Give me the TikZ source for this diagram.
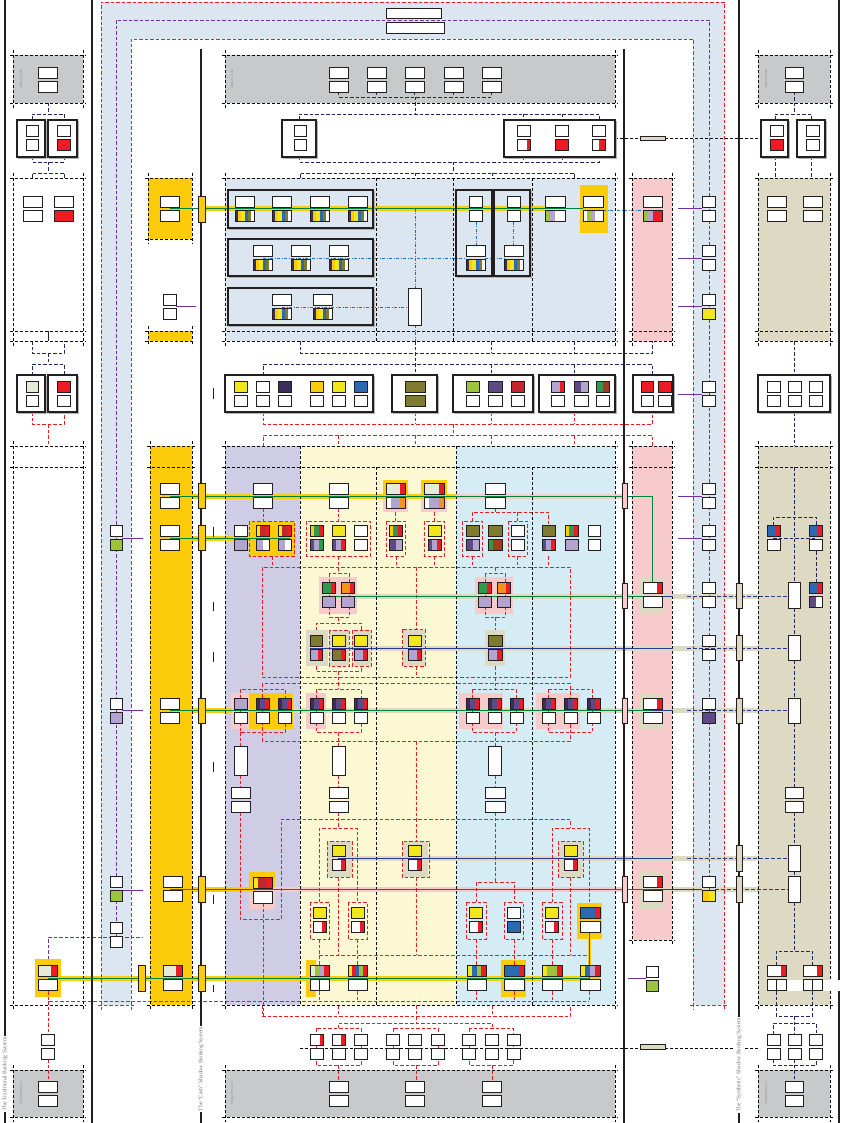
\documentclass[tikz,border=0pt]{standalone}
\usepackage{fontspec}
\setmainfont{Liberation Serif}
\usetikzlibrary{fit,calc}
\definecolor{bandblue}{HTML}{DCE6F1}
\definecolor{grayr}{HTML}{C8C9CA}
\definecolor{cashy}{HTML}{FCCB0A}
\definecolor{pinkr}{HTML}{F7CACC}
\definecolor{tanr}{HTML}{DDD9C3}
\definecolor{lavbg}{HTML}{CFCCE6}
\definecolor{ltyel}{HTML}{FBF8D3}
\definecolor{ltcyan}{HTML}{D5ECF4}
\definecolor{boxk}{HTML}{231F20}
\definecolor{yelb}{HTML}{F2E71B}
\definecolor{olv}{HTML}{7E7A2F}
\definecolor{navyp}{HTML}{3A2D5C}
\definecolor{blueb}{HTML}{2B6AB3}
\definecolor{redb}{HTML}{ED1C24}
\definecolor{darkred}{HTML}{C1272D}
\definecolor{lavender}{HTML}{B2A4CE}
\definecolor{purplep}{HTML}{5D4A87}
\definecolor{greenb}{HTML}{2E9A4C}
\definecolor{orangeb}{HTML}{F5921E}
\definecolor{ltgreen}{HTML}{9BC33C}
\definecolor{palegr}{HTML}{E4ECD7}
\definecolor{brownb}{HTML}{A23B24}
\definecolor{navyc}{HTML}{1E2A5E}
\definecolor{redc}{HTML}{ED1C24}
\definecolor{purc}{HTML}{7030A0}
\definecolor{bluec}{HTML}{1F6FB6}
\definecolor{greenc}{HTML}{00843D}
\definecolor{navyl}{HTML}{2B3990}
\tikzset{
 bxl/.style={draw=boxk, line width=0.9pt},
 rb/.style={draw=black, line width=0.7pt, dash pattern=on 3pt off 2pt},
 vline/.style={draw=boxk, line width=1.1pt},
 navyd/.style={draw=navyc, line width=0.8pt, dash pattern=on 3.5pt off 2pt},
 redd/.style={draw=redc, line width=0.8pt, dash pattern=on 3.5pt off 2pt},
 purd/.style={draw=purc, line width=0.8pt, dash pattern=on 3.5pt off 2pt},
 purl/.style={draw=purc, line width=0.8pt},
 blued/.style={draw=bluec, line width=0.8pt, dash pattern=on 3pt off 1.5pt on 1pt off 1.5pt},
 blkd/.style={draw=black, line width=0.7pt, dash pattern=on 3pt off 2pt},
 yflow/.style={draw=cashy, line width=5pt},
 pflow/.style={draw=pinkr, line width=5pt},
 tflow/.style={draw=tanr, line width=5pt},
 gline/.style={draw=greenc, line width=0.9pt},
 nline/.style={draw=navyl, line width=0.9pt},
 nldash/.style={draw=navyl, line width=0.9pt, dash pattern=on 4pt off 2pt},
 biglbl/.style={fill=white, text=black!55, font=\fontsize{5.6}{6}\selectfont, inner sep=1.2pt, rotate=90},
 smlbl/.style={text=black!50, font=\fontsize{2.8}{3}\selectfont, inner sep=0pt, rotate=90},
}
% multi-colour box: name, x1, y1, x2, y2, colour list
\newcommand\MB[6]{%
  \node[inner sep=0pt,outer sep=0pt,fit={(#2,#3)(#4,#5)}] (#1) {};%
  \xdef\mbn{0}%
  \foreach \cc in {#6}{\pgfmathtruncatemacro\mbt{\mbn+1}\xdef\mbn{\mbt}}%
  \foreach \cc [count=\ii] in {#6}{\fill[\cc] ({#2+(\ii-1)*(#4-#2)/\mbn},#3) rectangle ({#2+\ii*(#4-#2)/\mbn},#5);}%
  \draw[bxl] (#2,#3) rectangle (#4,#5);}
% pair of boxes: name, x1, x2, ytop, top colours, bottom colours
\newcommand\PR[6]{%
  \MB{#1t}{#2}{#4}{#3}{#4+11}{#5}%
  \MB{#1b}{#2}{#4+14.5}{#3}{#4+25.5}{#6}}
% frame: name, x1, y1, x2, y2, fill
\newcommand\FR[6]{%
  \draw[black!30, line width=1.2pt] (#2+1.2,#5+1.2) -- (#4+1.2,#5+1.2) -- (#4+1.2,#3+1.2);%
  \node[inner sep=0pt, outer sep=0pt, fit={(#2,#3)(#4,#5)}, draw=boxk, fill=#6, line width=1.1pt] (#1) {};}
% region border
\newcommand\RB[4]{\draw[rb] (#1-3,#2) -- (#3+3,#2) (#1-3,#4) -- (#3+3,#4) (#1,#2-5) -- (#1,#4+5) (#3,#2-5) -- (#3,#4+5);}
\begin{document}
\begin{tikzpicture}[x=1pt,y=-1pt]
\useasboundingbox (0,0) rectangle (843,1123);
\fill[white] (0,0) rectangle (843,1123);
% ---------- backgrounds
\fill[bandblue] (101,2) rectangle (724,1005);
\fill[white] (131,39) rectangle (693,1005);
\foreach \ya/\yb in {55/103,1070/1117}{
  \fill[grayr] (13,\ya) rectangle (83,\yb);
  \fill[grayr] (225,\ya) rectangle (615,\yb);
  \fill[grayr] (758,\ya) rectangle (830,\yb);}
\fill[cashy] (148,178) rectangle (192,239);
\fill[cashy] (148,331) rectangle (192,341);
\fill[bandblue] (225,178) rectangle (615,341);
\fill[pinkr] (632,178) rectangle (672,341);
\fill[tanr] (758,178) rectangle (830,341);
\fill[cashy] (150,446) rectangle (192,1005);
\fill[lavbg] (225,446) rectangle (300,1005);
\fill[ltyel] (300,446) rectangle (456,1005);
\fill[ltcyan] (456,446) rectangle (615,1005);
\fill[pinkr] (632,446) rectangle (672,940);
\fill[tanr] (758,446) rectangle (830,1005);
% ---------- highlight backgrounds
\foreach \a/\b/\c/\d in {580/185/608/233, 383/480/408/497, 421/480/447/497, 250/522/295/556, 249/693/293/729, 249/872/275/887, 577/903/602/939, 35/959/61/997, 306/960/316/997, 501/960/526/997}
  {\fill[cashy] (\a,\b) rectangle (\c,\d);}
\foreach \a/\b/\c/\d in {383/497/408/512, 421/497/447/512, 319/577/357/614, 475/577/513/614, 231/693/249/729, 306/693/326/729, 459/693/503/729, 536/693/580/729, 249/887/275/909}
  {\fill[pinkr] (\a,\b) rectangle (\c,\d);}
\foreach \a/\b/\c/\d in {640/577/664/614, 306/630/328/666, 329/630/349/666, 352/630/371/666, 403/630/425/666, 485/630/505/666, 640/693/664/729, 327/841/352/877, 403/841/428/877, 558/841/583/877, 640/871/664/909}
  {\fill[tanr] (\a,\b) rectangle (\c,\d);}
% ---------- flow bands
\draw[yflow] (205,209) -- (545,209);
\draw[yflow] (192,496) -- (456,496);
\draw[pflow] (456,496) -- (622,496);
\draw[yflow] (192,538) -- (296,538);
\draw[tflow] (320,596) -- (758,596);
\draw[tflow] (306,648) -- (758,648);
\draw[yflow] (192,710) -- (232,710);
\draw[tflow] (293,710) -- (758,710);
\draw[tflow] (330,858) -- (758,858);
\draw[yflow] (192,889) -- (256,889);
\draw[pflow] (275,889) -- (622,889);
\draw[tflow] (664,889) -- (758,889);
\draw[yflow] (35,978) -- (600,978);
\draw[draw=cashy, line width=3pt] (589,933) -- (589,978);
% ---------- outer dashed borders
\draw[redd] (101,1010) -- (101,2) -- (724,2) -- (724,1010);
\draw[purd] (116,948) -- (116,20) -- (709,20) -- (709,902);
\draw[redd] (131,1010) -- (131,39) -- (693,39) -- (693,1010);
\draw[redd] (98,1005) -- (134,1005) (690,1005) -- (727,1005);
% ---------- navy trees (top)
\draw[navyd] (48,103) -- (48,114);
\draw[navyd] (32,120) |- (64,114) -- (64,120);
\draw[navyd] (32,157) |- (64,162) -- (64,157);
\draw[navyd] (48,162) -- (48,173);
\draw[navyd] (32,178) |- (64,173) -- (64,178);
\draw[navyd] (794,92) -- (794,114);
\draw[navyd] (775,120) |- (811,114) -- (811,120);
\draw[navyd] (775,157) -- (775,178) (811,157) -- (811,178);
\draw[navyd] (338.5,92) |- (491.5,97) -- (491.5,92);
\foreach \x in {376.5,414.5,453}{\draw[navyd] (\x,92) -- (\x,97);}
\draw[navyd] (415,97) -- (415,114);
\draw[navyd] (299,120) |- (599,114) -- (599,120);
\draw[navyd] (523,114) -- (523,120) (562,114) -- (562,120);
\draw[navyd] (299,157) |- (599,162) -- (599,157);
\draw[navyd] (523,157) -- (523,162) (562,157) -- (562,162);
\draw[navyd] (453,162) -- (453,173);
\draw[navyd] (300,178) |- (574,173) -- (574,178);
\draw[navyd] (415,173) -- (415,178) (492,173) -- (492,178);
% middle navy
\draw[navyd] (32,341) |- (64,353) -- (64,341);
\draw[navyd] (48,353) -- (48,364);
\draw[navyd] (32,375) |- (64,364) -- (64,375);
\draw[navyd] (300,341) |- (652,353) -- (652,341);
\draw[navyd] (415,341) -- (415,375) (491,341) -- (491,353) (574,341) -- (574,353);
\draw[navyd] (263,375) |- (652,364) -- (652,375);
\draw[navyd] (491,364) -- (491,375) (574,364) -- (574,375);
\draw[navyd] (794,341) -- (794,375);
% red middle
\draw[redd] (32,412) |- (64,424) -- (64,412);
\draw[redd] (48,424) -- (48,446);
\draw[redd] (263,412) |- (652,424) -- (652,412);
\draw[redd] (415,412) -- (415,424) (491,412) -- (491,424) (574,412) -- (574,424);
\draw[redd] (453,424) -- (453,435);
\draw[redd] (263,446) |- (652,435) -- (652,446);
\foreach \x in {338,415,491,574}{\draw[redd] (\x,435) -- (\x,446);}
\draw[navyd] (794,412) -- (794,446);
% ---------- red trees, lower region
\draw[redd] (263,508) -- (263,522) (338,508) -- (338,521) (395,512) -- (395,521) (434,512) -- (434,521) (495,508) -- (495,512);
\draw[redd] (472,521) |- (548,512) -- (548,525);
\draw[redd] (517,512) -- (517,521);
\foreach \a/\b/\c/\d in {249/521/294/556, 306/521/370/556, 386/521/405/556, 424/521/444/556, 462/521/482/556, 508/521/527/556}
  {\draw[redd] (\a,\b) rectangle (\c,\d);}
\draw[redd] (262,567) rectangle (570,677);
\foreach \x in {272,396,434,472,517,548}{\draw[redd] (\x,556) -- (\x,567);}
\draw[redd] (338,556) -- (338,573) (495,567) -- (495,573);
\draw[redd] (329,573) rectangle (349,617) (485,573) rectangle (505,617);
\draw[redd] (338,617) -- (338,623);
\draw[redd] (316,630) |- (361,623) -- (361,630);
\draw[redd] (329,630) rectangle (349,666) (352,630) rectangle (371,666) (402,629) rectangle (425,666);
\draw[redd] (316,666) |- (361,671) -- (361,666);
\draw[redd] (338,671) -- (338,689);
\draw[redd] (416,567) -- (416,629) (416,666) -- (416,677);
\draw[redd] (495,617) -- (495,630) (495,666) -- (495,689);
\draw[redd] (262,683) rectangle (570,741);
\foreach \a/\b/\c/\d in {240/689/285/732, 316/689/361/732, 472/689/516/732, 548/689/592/732}
  {\draw[redd] (\a,\b) rectangle (\c,\d);}
\draw[redd] (240,732) -- (240,746) (240,775) -- (240,787);
\draw[redd] (240,812) -- (240,919) -- (281,919) -- (281,819) -- (570,819) -- (570,828);
\draw[redd] (338,732) -- (338,746) (338,775) -- (338,787) (338,812) -- (338,828);
\draw[redd] (495,732) -- (495,746) (495,775) -- (495,787) (495,812) -- (495,882);
\draw[redd] (319,902) |- (357,828) -- (357,902);
\draw[redd] (552,902) |- (589,828) -- (589,903);
\draw[redd] (476,902) |- (514,882) -- (514,902);
\draw[redd] (327,841) rectangle (352,877) (402,841) rectangle (429,877) (558,841) rectangle (583,877);
\draw[redd] (416,741) -- (416,841) (416,877) -- (416,955);
\draw[redd] (338,877) -- (338,955) (570,877) -- (570,955);
\foreach \a/\b/\c/\d in {310/902/329/939, 348/902/367/939, 466/902/486/939, 504/902/523/939, 542/902/562/939}
  {\draw[redd] (\a,\b) rectangle (\c,\d);}
\draw[redd] (319,955) -- (589,955);
\foreach \x in {319,357,476,514,552}{\draw[redd] (\x,939) -- (\x,965);}
\draw[redd] (48,991) |- (589,1001);
\foreach \x in {319,357,476,514,552,589}{\draw[redd] (\x,991) -- (\x,1001);}
\draw[redd] (48,1001) -- (48,1034) (48,1059) -- (48,1081);
\draw[redd] (263,903) -- (263,1016);
\draw[redd] (262,1005) |- (570,1016) -- (570,1005);
\foreach \x in {338,416,492}{\draw[redd] (\x,1005) -- (\x,1016);}
\draw[redd] (416,1016) -- (416,1023);
\draw[redd] (338,1028) |- (492,1023) -- (492,1028);
\draw[redd] (316,1028) rectangle (361,1065) (393,1028) rectangle (438,1065) (469,1028) rectangle (513,1065);
\draw[redd] (338,1065) -- (338,1081) (416,1065) -- (416,1081) (492,1065) -- (492,1081);
% ---------- navy, right tan column
\draw[navyd] (794,467) -- (794,582);
\draw[navyd] (773,525) |- (816,517) -- (816,525);
\draw[navyd] (773,538) -- (816,538);
\draw[navyd] (816,551) -- (816,582);
\draw[navyd] (794,608) -- (794,635) (794,660) -- (794,698) (794,723) -- (794,787) (794,812) -- (794,845) (794,871) -- (794,876) (794,902) -- (794,951);
\draw[navyd] (776,965) |- (812,951) -- (812,965);
\draw[navyd] (776,991) |- (812,1016) -- (812,991);
\draw[navyd] (794,1016) -- (794,1034);
\draw[navyd] (773,1034) |- (816,1023) -- (816,1034);
\draw[navyd] (773,1059) |- (816,1065) -- (816,1059);
\draw[navyd] (794,1059) -- (794,1081);
% ---------- purple links
\foreach \y in {208,258,306,394,496,538}{\draw[purl] (678,\y) -- (702,\y);}
\foreach \y in {538,710,890}{\draw[purl] (122,\y) -- (143,\y);}
\draw[purd] (48,959) |- (143,937);
\draw[purl] (176,306) -- (196,306);
\draw[purl] (628,978) -- (646,978);
% ---------- blue dash-dot
\draw[blued] (603,210) -- (643,210);
\draw[blued] (263,258) -- (466,258) (485,258) -- (504,258);
\draw[blued] (282,307) -- (408,307);
\draw[blued] (415,209) -- (415,288) (415,325) -- (415,341);
\draw[blued] (476,222) -- (476,245) (513,222) -- (513,245);
% ---------- black dashed links
\draw[blkd] (535,138) -- (761,138);
\draw[blkd] (300,1048) -- (760,1048);
% ---------- region borders
\RB{13}{55}{83}{103} \RB{225}{55}{615}{103} \RB{758}{55}{830}{103}
\RB{13}{1070}{83}{1117} \RB{225}{1070}{615}{1117} \RB{758}{1070}{830}{1117}
\RB{13}{178}{83}{341} \RB{148}{178}{192}{239} \RB{148}{331}{192}{341}
\RB{225}{178}{615}{341} \RB{632}{178}{672}{341} \RB{758}{178}{830}{341}
\draw[rb] (10,331) -- (86,331) (222,331) -- (618,331) (629,331) -- (675,331) (755,331) -- (833,331);
\draw[boxk, line width=0.7pt] (48,331) -- (48,341);
\foreach \x in {376,453,532}{\draw[rb] (\x,178) -- (\x,341);}
\RB{13}{446}{83}{1005} \RB{150}{446}{192}{1005} \RB{225}{446}{615}{1005}
\RB{632}{446}{672}{940} \RB{758}{446}{830}{1005}
\draw[rb] (10,467) -- (86,467) (147,467) -- (195,467) (222,467) -- (618,467) (629,467) -- (675,467) (755,467) -- (833,467);
\draw[rb] (300,446) -- (300,1005) (456,446) -- (456,1005) (376,467) -- (376,1005) (532,467) -- (532,1005);
% ---------- main vertical lines
\draw[vline] (5,0) -- (5,1123) (92,0) -- (92,1123) (201,49) -- (201,1123) (624,49) -- (624,1123) (739,0) -- (739,1123) (839,0) -- (839,1123);
% ---------- thin flow lines
\draw[gline] (170,208) -- (583,208);
\draw[gline] (170,496) -- (652,496) -- (652,582);
\draw[gline] (170,538) -- (290,538);
\draw[gline] (322,596) -- (652,596);
\draw[nline] (652,596) -- (673,596);
\draw[nldash] (687,596) -- (788,596);
\draw[nline] (310,648) -- (673,648);
\draw[nldash] (687,648) -- (788,648);
\draw[gline] (170,710) -- (652,710);
\draw[nline] (652,710) -- (673,710);
\draw[nldash] (687,710) -- (788,710);
\draw[nline] (338,858) -- (673,858);
\draw[nldash] (687,858) -- (788,858);
\draw[gline] (170,889) -- (652,889);
\draw[nline] (652,889) -- (702,889);
\draw[nldash] (715,889) -- (788,889);
\draw[gline] (48,978) -- (589,978) -- (589,933);
% small tick marks
\foreach \ya/\yb in {388/399, 527/537, 602/611, 652/662, 762/772, 895/904, 985/992}{\draw[boxk, line width=0.8pt] (213,\ya) -- (213,\yb);}
% ---------- bars on the vertical lines
\foreach \ya/\yb [count=\k] in {196/222, 483/508, 525/550, 698/723, 876/902, 965/991}{\MB{cbar\k}{198}{\ya}{205}{\yb}{cashy}}
\foreach \ya/\yb [count=\k] in {483/508, 583/608, 698/723, 876/902}{\MB{pbar\k}{622}{\ya}{627}{\yb}{pinkr}}
\foreach \ya/\yb [count=\k] in {583/608, 635/660, 698/723, 845/871, 876/902}{\MB{tbar\k}{736}{\ya}{742}{\yb}{tanr}}
\MB{tbarA}{640}{136}{665}{140}{tanr}
\MB{tbarB}{640}{1044}{665}{1049}{tanr}
\MB{ybar}{138}{965}{145}{991}{cashy}
% ---------- frames
\FR{fL1}{17}{120}{45}{157}{white} \FR{fL2}{48}{120}{77}{157}{white}
\FR{fC}{282}{120}{316}{157}{white} \FR{fR}{504}{120}{615}{157}{white}
\FR{fRR1}{761}{120}{788}{157}{white} \FR{fRR2}{797}{120}{825}{157}{white}
\FR{F1}{228}{190}{373}{228}{none} \FR{F2}{228}{239}{373}{276}{none} \FR{F3}{228}{288}{373}{325}{none}
\FR{F4}{456}{190}{492}{276}{none} \FR{F5}{494}{190}{530}{276}{none}
\FR{mL1}{17}{375}{45}{412}{white} \FR{mL2}{48}{375}{77}{412}{white}
\FR{mA}{225}{375}{373}{412}{white} \FR{mB}{392}{375}{437}{412}{white}
\FR{mC}{453}{375}{533}{412}{white} \FR{mD}{539}{375}{615}{412}{white}
\FR{mE}{633}{375}{673}{412}{white} \FR{mT}{758}{375}{830}{412}{white}
% ---------- boxes: top
\MB{tA}{386}{8}{441}{18}{white}
\MB{tB}{386}{22}{444}{33}{white}
\PR{uL}{38}{57}{67}{white}{white}
\foreach \x [count=\k] in {329,367,405,444,482}{\PR{uc\k}{\x}{\x+19}{67}{white}{white}}
\PR{uR}{785}{803}{67}{white}{white}
\PR{a1}{26}{38}{125}{white}{white}
\PR{a2}{57}{70}{125}{white}{redb}
\PR{a3}{294}{306}{125}{white}{white}
\PR{a4}{517}{530}{125}{white}{white,white,white,redb}
\PR{a5}{555}{568}{125}{white}{redb}
\PR{a6}{592}{605}{125}{white}{white,redb}
\PR{a7}{770}{783}{125}{white}{redb}
\PR{a8}{806}{819}{125}{white}{white}
% row 3
\PR{b1}{23}{42}{196}{white}{white}
\PR{b2}{54}{73}{196}{white}{redb}
\PR{b3}{160}{179}{196}{white}{white}
\foreach \x [count=\k] in {235,272,310,348}{\PR{fa\k}{\x}{\x+19}{196}{white}{navyp,cashy,yelb,blueb,olv,white}}
\foreach \x [count=\k] in {253,291,329}{\PR{fb\k}{\x}{\x+19}{245}{white}{navyp,cashy,yelb,blueb,olv,white}}
\foreach \x [count=\k] in {272,313}{\PR{fc\k}{\x}{\x+19}{294}{white}{navyp,cashy,yelb,blueb,olv,white}}
\MB{bT}{408}{288}{421}{325}{white}
\PR{b13}{469}{482}{196}{white}{white}
\PR{b14}{466}{485}{245}{white}{navyp,cashy,yelb,blueb,olv,white}
\PR{b15}{507}{520}{196}{white}{white}
\PR{b16}{504}{523}{245}{white}{navyp,cashy,yelb,blueb,olv,white}
\PR{b17}{545}{565}{196}{white}{ltgreen,lavender,white,white}
\PR{b18}{583}{603}{196}{white}{white,ltgreen,lavender,white,white}
\PR{b19}{643}{662}{196}{white}{ltgreen,lavender,redb,redb}
\PR{b20}{702}{715}{196}{white}{white}
\PR{b21}{702}{715}{245}{white}{white}
\PR{b22}{702}{715}{294}{white}{yelb}
\PR{b23}{767}{786}{196}{white}{white}
\PR{b24}{803}{822}{196}{white}{white}
\PR{b25}{163}{176}{294}{white}{white}
% middle row
\PR{m1}{26}{38}{381}{palegr}{white}
\PR{m2}{57}{70}{381}{redb}{white}
\PR{m3}{234}{247}{381}{yelb}{white}
\PR{m4}{256}{269}{381}{white}{white}
\PR{m5}{278}{291}{381}{navyp}{white}
\PR{m6}{310}{323}{381}{cashy}{white}
\PR{m7}{332}{345}{381}{yelb}{white}
\PR{m8}{354}{367}{381}{blueb}{white}
\PR{m9}{405}{425}{381}{olv}{olv}
\PR{m10}{466}{479}{381}{ltgreen}{white}
\PR{m11}{488}{502}{381}{purplep}{white}
\PR{m12}{511}{524}{381}{darkred}{white}
\PR{m13}{551}{564}{381}{lavender,lavender,redb}{white}
\PR{m14}{574}{588}{381}{purplep,lavender}{white}
\PR{m15}{596}{609}{381}{greenb,brownb}{white}
\PR{m16}{641}{653}{381}{redb}{white}
\PR{m17}{658}{671}{381}{redb}{white}
\PR{m18}{702}{715}{381}{white}{white}
\foreach \x [count=\k] in {767,788,809}{\PR{mt\k}{\x}{\x+13}{381}{white}{white}}
% lower region R1
\PR{r1a}{160}{179}{483}{white}{white}
\PR{r1b}{253}{272}{483}{white}{white}
\PR{r1c}{329}{348}{483}{white}{white}
\PR{r1d}{386}{405}{483}{palegr,palegr,palegr,redb}{white,lavender,lavender,orangeb}
\PR{r1e}{424}{444}{483}{palegr,palegr,palegr,redb}{white,lavender,lavender,orangeb}
\PR{r1f}{485}{505}{483}{white}{white}
\PR{r1g}{702}{715}{483}{white}{white}
% R2
\PR{r2a}{110}{122}{525}{white}{ltgreen}
\PR{r2b}{160}{179}{525}{white}{white}
\PR{r2c}{234}{247}{525}{white}{lavender}
\PR{r2d}{256}{269}{525}{yelb,darkred,redb}{lavender,white}
\PR{r2e}{278}{291}{525}{yelb,darkred,redb}{lavender,white}
\PR{r2f}{310}{323}{525}{cashy,greenb,redb}{purplep,lavender,greenb}
\PR{r2g}{332}{345}{525}{yelb}{purplep,lavender,redb}
\PR{r2h}{354}{367}{525}{white}{white}
\PR{r2i}{389}{402}{525}{cashy,greenb,redb}{purplep,lavender}
\PR{r2j}{428}{441}{525}{yelb}{purplep,lavender,redb}
\PR{r2k}{466}{479}{525}{olv}{purplep,lavender}
\PR{r2l}{488}{502}{525}{olv}{greenb,brownb,brownb}
\PR{r2m}{511}{524}{525}{white}{white}
\PR{r2n}{542}{555}{525}{olv}{purplep,lavender,redb}
\PR{r2o}{565}{578}{525}{cashy,greenb,redb}{lavender}
\PR{r2p}{588}{600}{525}{white}{white}
\PR{r2q}{702}{715}{525}{white}{white}
\PR{r2r}{767}{780}{525}{blueb,blueb,redb}{white}
\PR{r2s}{809}{822}{525}{blueb,blueb,redb}{white}
% R3
\PR{r3a}{322}{335}{582}{greenb,greenb,redb}{lavender}
\PR{r3b}{341}{354}{582}{orangeb,orangeb,redb}{lavender}
\PR{r3c}{478}{491}{582}{greenb,greenb,redb}{lavender}
\PR{r3d}{497}{510}{582}{orangeb,orangeb,redb}{lavender}
\PR{r3e}{643}{662}{582}{white,white,white,redb}{white}
\PR{r3f}{702}{715}{582}{white}{white}
\MB{r3g}{788}{582}{800}{608}{white}
\PR{r3h}{809}{822}{582}{blueb,blueb,redb}{purplep,white}
% R4
\PR{r4a}{310}{322}{635}{olv}{lavender,lavender,redb}
\PR{r4b}{332}{345}{635}{yelb}{olv,olv,redb}
\PR{r4c}{354}{367}{635}{yelb}{lavender,lavender,redb}
\PR{r4d}{408}{421}{635}{yelb}{lavender,lavender,redb}
\PR{r4e}{488}{502}{635}{olv}{lavender,lavender,redb}
\PR{r4f}{702}{715}{635}{white}{white}
\MB{r4g}{788}{635}{800}{660}{white}
% R5
\PR{r5a}{110}{122}{698}{white}{lavender}
\PR{r5b}{160}{179}{698}{white}{white}
\PR{r5c}{234}{247}{698}{lavender}{white}
\foreach \x [count=\k] in {256,278,310,332,354,466,488,510,542,564,587}{\PR{r5d\k}{\x}{\x+13}{698}{navyp,purplep,redb}{white}}
\PR{r5p}{643}{662}{698}{white,white,white,redb}{white}
\PR{r5q}{702}{715}{698}{white}{purplep}
\MB{r5r}{788}{698}{800}{723}{white}
% R6, R7
\MB{r6a}{234}{746}{247}{775}{white}
\MB{r6b}{332}{746}{345}{775}{white}
\MB{r6c}{488}{746}{501}{775}{white}
\PR{r7a}{231}{250}{787}{white}{white}
\PR{r7b}{329}{348}{787}{white}{white}
\PR{r7c}{485}{505}{787}{white}{white}
\PR{r7d}{785}{803}{787}{white}{white}
% R8
\MB{r8at}{253}{877}{272}{888}{yelb,darkred,darkred,redb}
\MB{r8ab}{253}{891}{272}{903}{white}
\PR{r8b}{332}{345}{845}{yelb}{white,white,redb}
\PR{r8c}{408}{421}{845}{yelb}{white,white,redb}
\PR{r8d}{564}{577}{845}{yelb}{white,white,redb}
\PR{r8e}{163}{182}{876}{white}{white}
\PR{r8f}{110}{122}{876}{white}{ltgreen}
\PR{r8g}{643}{662}{876}{white,white,white,redb}{white}
\PR{r8h}{702}{715}{876}{white}{cashy,yelb}
\MB{r8i}{788}{845}{800}{871}{white}
\MB{r8j}{788}{876}{800}{902}{white}
\PR{r8k}{110}{122}{922}{white}{white}
% R9
\PR{r9a}{313}{326}{907}{yelb}{white,white,redb}
\PR{r9b}{351}{364}{907}{yelb}{white,white,redb}
\PR{r9c}{469}{482}{907}{yelb}{white,white,redb}
\PR{r9d}{507}{520}{907}{white}{blueb}
\PR{r9e}{545}{558}{907}{yelb}{white,white,redb}
\PR{r9f}{580}{600}{907}{blueb,blueb,blueb,redb}{white}
% R10
\PR{r10a}{38}{57}{965}{palegr,palegr,redb}{white}
\PR{r10b}{163}{182}{965}{palegr,palegr,redb}{white}
\MB{r10ct}{310}{965}{329}{976}{palegr,ltgreen,lavender,redb}
\MB{r10cb}{310}{979.5}{319.5}{990.5}{white}
\MB{r10cc}{319.5}{979.5}{329}{990.5}{white}
\PR{r10d}{348}{367}{965}{yelb,redb,blueb,ltgreen,redb}{white}
\PR{r10e}{467}{486}{965}{yelb,blueb,ltgreen,redb}{white}
\PR{r10f}{504}{524}{965}{blueb,blueb,blueb,redb}{white}
\PR{r10g}{542}{562}{965}{yelb,ltgreen,ltgreen,redb}{white}
\PR{r10h}{580}{600}{965}{yelb,blueb,lavender,redb}{white}
\PR{r10i}{646}{658}{966}{white}{ltgreen}
\foreach \x [count=\k] in {767,803}{
  \MB{r10t\k}{\x}{965}{\x+19}{976}{white,white,white,redb}
  \MB{r10l\k}{\x}{979.5}{\x+9.5}{990.5}{white}
  \MB{r10r\k}{\x+9.5}{979.5}{\x+19}{990.5}{white}}
% bottom rows
\PR{z1}{41}{54}{1034}{white}{white}
\PR{z2}{310}{323}{1034}{white,white,white,redb}{white}
\PR{z3}{332}{345}{1034}{white,white,redb}{white}
\foreach \x [count=\k] in {354,386,408,431,462,485,507}{\PR{zz\k}{\x}{\x+13}{1034}{white}{white}}
\foreach \x [count=\k] in {767,788,809}{\PR{zr\k}{\x}{\x+13}{1034}{white}{white}}
\PR{g1}{38}{57}{1081}{white}{white}
\PR{g2}{329}{348}{1081}{white}{white}
\PR{g3}{405}{424}{1081}{white}{white}
\PR{g4}{482}{501}{1081}{white}{white}
\PR{g5}{785}{803}{1081}{white}{white}
% ---------- labels
\node[smlbl] (ul1) at (21,79) {Ultimate Lenders};
\node[smlbl] (ul2) at (232,79) {Ultimate Lenders};
\node[smlbl] (ul3) at (766,79) {Ultimate Lenders};
\node[smlbl] (ub1) at (21,1093) {Ultimate Borrowers};
\node[smlbl] (ub2) at (232,1093) {Ultimate Borrowers};
\node[smlbl] (ub3) at (766,1093) {Ultimate Borrowers};
\node[biglbl] (sysT) at (5,1074) {The Traditional Banking System};
\node[biglbl] (sysC) at (201,1069) {The ``Cash'' Shadow Banking System};
\node[biglbl] (sysS) at (739,1065) {The ``Synthetic'' Shadow Banking System};
\end{tikzpicture}
\end{document}
